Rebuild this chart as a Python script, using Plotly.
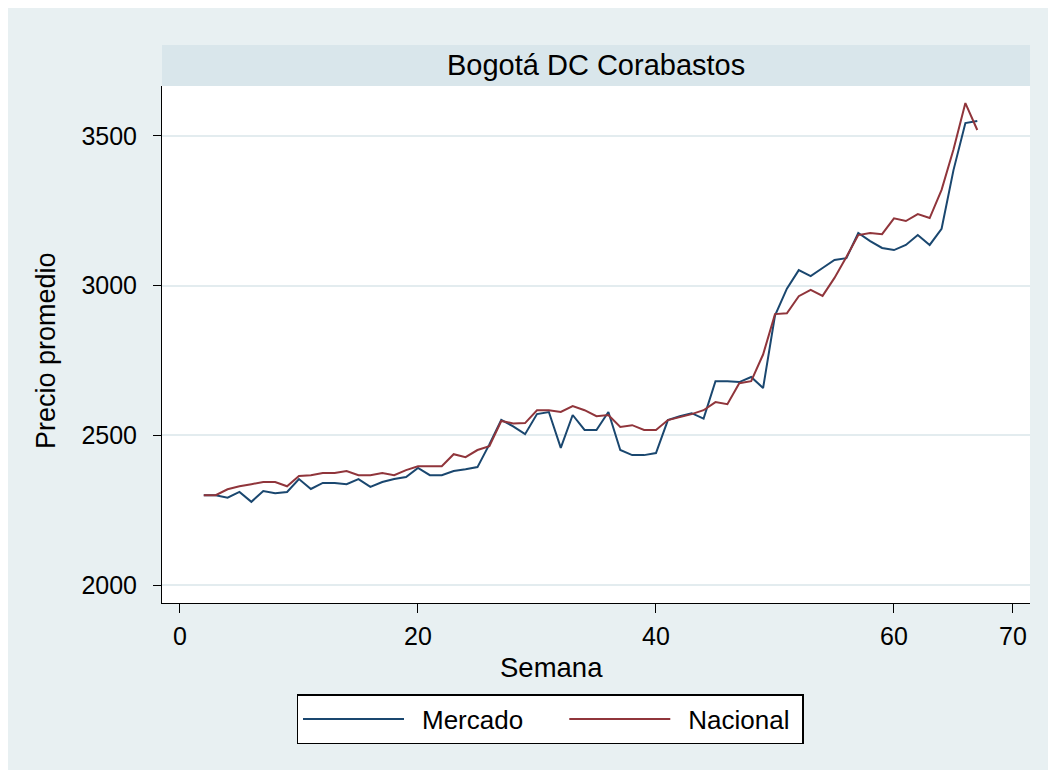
import plotly.graph_objects as go

semana = list(range(2, 68))

mercado = [2300, 2300, 2292, 2311, 2278, 2314, 2307, 2311, 2354, 2321,
           2341, 2341, 2337, 2354, 2328, 2344, 2354, 2361, 2391, 2367,
           2367, 2381, 2387, 2394, 2470, 2552, 2530, 2504, 2571, 2578,
           2458, 2568, 2518, 2518, 2578, 2451, 2434, 2434, 2441, 2551,
           2564, 2574, 2556, 2681, 2681, 2678, 2695, 2658, 2900, 2990,
           3052, 3032, 3059, 3086, 3092, 3176, 3149, 3126, 3119, 3136,
           3169, 3136, 3190, 3386, 3543, 3550]

nacional = [2300, 2300, 2320, 2330, 2337, 2344, 2344, 2330, 2364, 2367,
            2374, 2374, 2381, 2367, 2367, 2374, 2367, 2384, 2397, 2397,
            2397, 2437, 2427, 2451, 2464, 2548, 2540, 2541, 2584, 2584,
            2578, 2598, 2584, 2564, 2568, 2528, 2534, 2518, 2518, 2551,
            2561, 2571, 2584, 2611, 2604, 2674, 2681, 2770, 2905, 2908,
            2965, 2986, 2966, 3026, 3096, 3169, 3176, 3172, 3225, 3216,
            3239, 3226, 3320, 3455, 3610, 3520]

x_ticks = [0, 20, 40, 60, 70]
y_ticks = [2000, 2500, 3000, 3500]
titulo = "Bogotá DC Corabastos"
x_titulo = "Semana"
y_titulo = "Precio promedio"

FONT = "Liberation Sans, Arial, sans-serif"
BG = "#E8F0F2"
STRIP = "#D9E6EB"

# page offset of the figure (body margin)
OX, OY = 8, 8
W, H = 1042, 762
# plot area in page pixels
P_L, P_R, P_T, P_B = 162, 1030, 86, 603
L, R, T, B = P_L - OX, OX + W - P_R, P_T - OY, OY + H - P_B
pw, ph = P_R - P_L, P_B - P_T


def px(xp):
    return (xp - P_L) / pw


def py(yp):
    return (P_B - yp) / ph


fig = go.Figure()
fig.add_trace(go.Scatter(x=semana, y=mercado, mode="lines",
                         name="\u2002Mercado\u00a0\u00a0\u00a0\u00a0\u00a0",
                         line=dict(color="#1A476F", width=2)))
fig.add_trace(go.Scatter(x=semana, y=nacional, mode="lines",
                         name="\u2002Nacional\u00a0",
                         line=dict(color="#90353B", width=2)))

shapes = [
    dict(type="rect", xref="paper", yref="paper", x0=0, x1=1, y0=1, y1=py(45),
         fillcolor=STRIP, line=dict(width=0), layer="above"),
]

annotations = [
    dict(text=titulo, xref="paper", yref="paper", x=0.5, y=(1 + py(45)) / 2,
         xanchor="center", yanchor="middle", showarrow=False,
         font=dict(family=FONT, size=29, color="black")),
    dict(text=x_titulo, xref="paper", yref="paper", x=px(551), y=py(667),
         xanchor="center", yanchor="middle", showarrow=False,
         font=dict(family=FONT, size=27.5, color="black")),
    dict(text=y_titulo, xref="paper", yref="paper", x=px(46), y=py(351),
         xanchor="center", yanchor="middle", showarrow=False, textangle=-90,
         font=dict(family=FONT, size=27, color="black")),
]

fig.update_layout(
    width=W, height=H,
    margin=dict(l=L, r=R, t=T, b=B),
    paper_bgcolor=BG, plot_bgcolor="white",
    font=dict(family=FONT, size=25, color="black"),
    shapes=shapes,
    annotations=annotations,
    legend=dict(orientation="h", x=px(550), y=py(694), xanchor="center", yanchor="top",
                bgcolor="white", bordercolor="black", borderwidth=1.5,
                itemwidth=101, font=dict(family=FONT, size=26, color="black"),
                itemclick=False),
    showlegend=True,
)

fig.update_xaxes(range=[-1.51, 71.43], tickvals=x_ticks, ticks="outside", ticklen=9,
                 tickcolor="black", showline=True, linecolor="black", linewidth=1,
                 showgrid=False, zeroline=False, ticklabelstandoff=2,
                 tickfont=dict(size=25))
fig.update_yaxes(range=[1940, 3667], tickvals=y_ticks, ticks="outside", ticklen=8,
                 tickcolor="black", showline=True, linecolor="black", linewidth=1,
                 showgrid=True, gridcolor="#E3ECEF", gridwidth=1.5, zeroline=False,
                 ticklabelstandoff=11,
                 tickfont=dict(size=25))

fig.write_html("out.html")
